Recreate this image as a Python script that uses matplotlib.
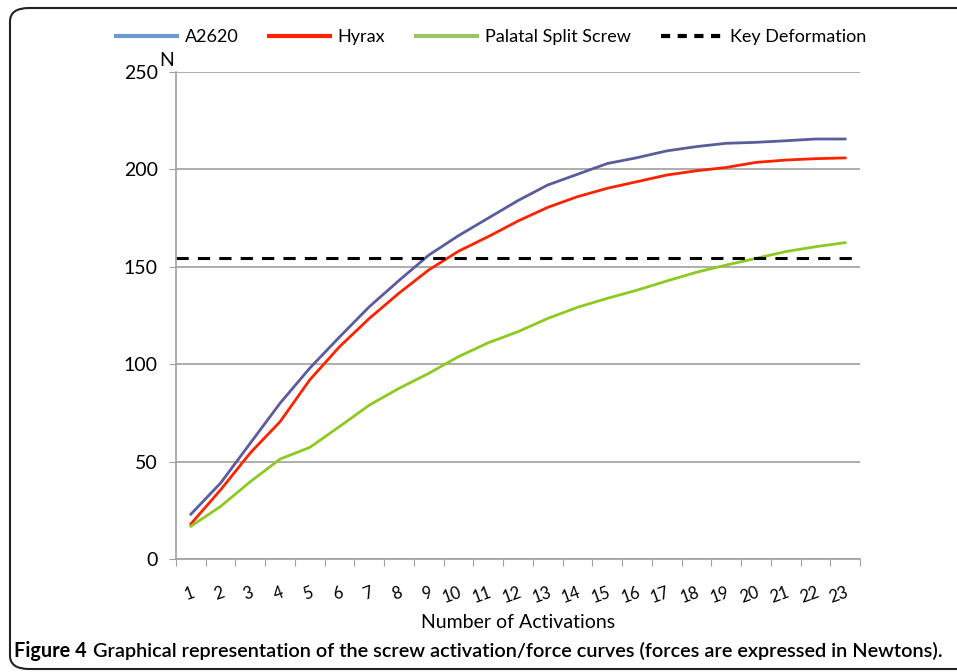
import numpy as np
import matplotlib
matplotlib.use("Agg")
import matplotlib.pyplot as plt
from matplotlib.lines import Line2D
from matplotlib.patches import FancyBboxPatch

plt.rcParams['font.family'] = ['Lato', 'DejaVu Sans']

# data
activations = list(range(1, 24))
a2620 = [23, 39, 59.5, 80, 98, 114, 129.5, 143, 156, 166, 175, 184, 192,
         197.5, 203, 206, 209.5, 211.7, 213.4, 213.9, 214.7, 215.6, 215.6]
hyrax = [18, 35.5, 54.5, 70.5, 92, 109, 123.5, 136.5, 148.4, 158, 165.5, 173.5, 180.5,
         186, 190.3, 193.7, 197.1, 199.3, 201, 203.6, 204.8, 205.5, 205.9]
palatal = [16.8, 27, 39.7, 51.3, 57.3, 68, 79, 87.6, 95.3, 103.9, 111, 116.7, 123.5,
           129.2, 133.8, 138, 142.7, 147.2, 150.9, 154.3, 157.8, 160.3, 162.4]
key_deformation = 154.3
y_ticks = [0, 50, 100, 150, 200, 250]

fig = plt.figure(figsize=(9.57, 6.72), dpi=100)
ax = fig.add_axes([176 / 957, 1 - 559 / 672, 684 / 957, 487 / 672])

ax.plot(activations, a2620, color="#5a5c9e", lw=2)
ax.plot(activations, hyrax, color="#ff2200", lw=2)
ax.plot(activations, palatal, color="#8dc920", lw=2)
ax.axhline(key_deformation, color="black", lw=2.2, ls=(0, (4, 3)))

ax.set_ylim(0, 250)
ax.set_xlim(0.5, 23.5)
ax.set_yticks(y_ticks)
ax.yaxis.grid(True, color="#a0a0a0", lw=1.2)
ax.set_axisbelow(True)

# tick marks between categories, labels on category centres
ax.set_xticks(np.arange(0.5, 24, 1))
ax.set_xticklabels([])
ax.set_xticks(activations, minor=True)
ax.set_xticklabels([str(a) for a in activations], minor=True, rotation=20,
                   ha="right", rotation_mode="anchor", fontsize=12)
ax.tick_params(axis="x", which="minor", length=0, pad=18)
ax.tick_params(axis="x", which="major", length=5, color="#a0a0a0")
ax.tick_params(axis="y", length=5, color="#a0a0a0", labelsize=14, pad=8)

for s in ["top", "right"]:
    ax.spines[s].set_visible(False)
for s in ["left", "bottom"]:
    ax.spines[s].set_color("#a0a0a0")
    ax.spines[s].set_linewidth(1.2)

ax.set_xlabel("Number of Activations", fontsize=14, labelpad=6)
fig.text(167 / 957, 1 - 60 / 672, "N", fontsize=14, ha="center", va="center")

handles = [Line2D([], [], color="#6f9ad0", lw=3),
           Line2D([], [], color="#ff2200", lw=3),
           Line2D([], [], color="#9ec46a", lw=3),
           Line2D([], [], color="black", lw=3, ls=(0, (2.2, 1.8)))]
labels = ["A2620", "Hyrax", "Palatal Split Screw", "Key Deformation"]
fig.legend(handles, labels, loc="center", bbox_to_anchor=(491 / 957, 1 - 37 / 672),
           ncol=4, frameon=False, fontsize=13, handlelength=3.4, columnspacing=1.7,
           handletextpad=0.4)

# caption: bold lead-in followed by the description
lead = fig.text(14 / 957, 1 - 651 / 672, "Figure 4", fontsize=14.3, fontweight="bold",
                va="center", ha="left")
fig.canvas.draw()
bb = lead.get_window_extent()
fig.text((bb.x1 + 6) / 957, 1 - 651 / 672,
         "Graphical representation of the screw activation/force curves (forces are expressed in Newtons).",
         fontsize=14.3, fontweight="semibold", va="center", ha="left")

# rounded border around the figure
border = FancyBboxPatch((10 / 957, 3 / 672), 980 / 957, 661 / 672,
                        boxstyle="round,pad=0,rounding_size=0.02",
                        transform=fig.transFigure, fill=False,
                        ec="#222222", lw=1.5, clip_on=False)
fig.patches.append(border)

fig.savefig("out.png", dpi=100)
